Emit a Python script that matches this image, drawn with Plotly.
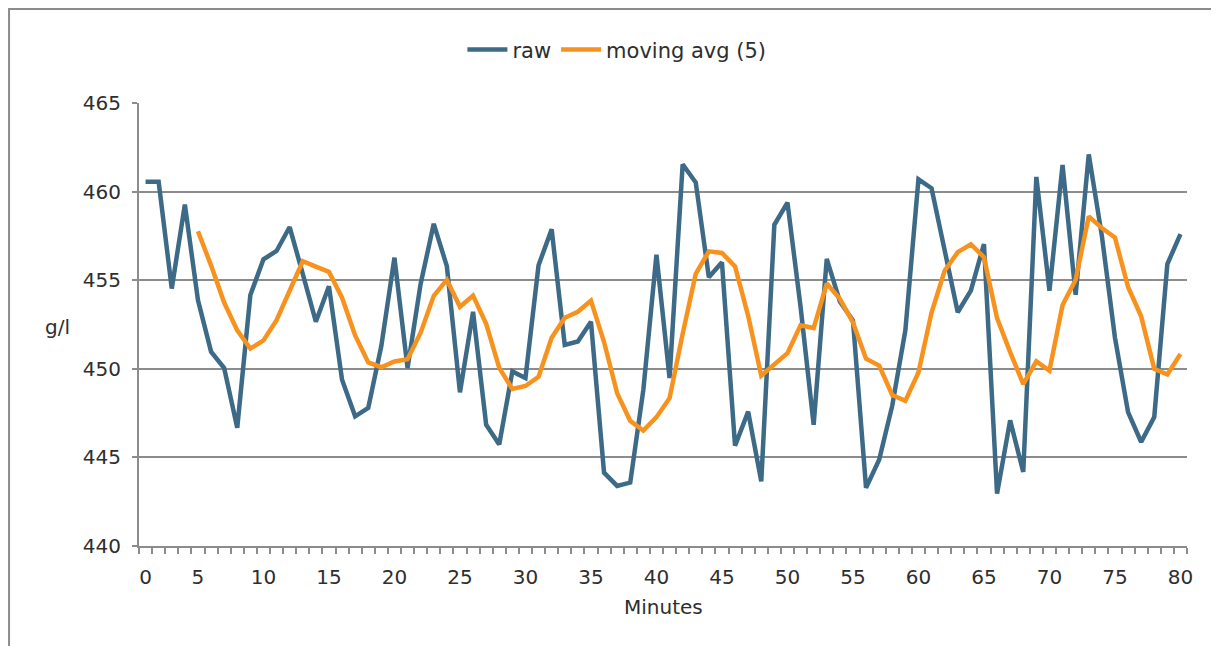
import plotly.graph_objects as go

# ---- data ----
minute_index = list(range(80))
tick_positions = [0] + list(range(4, 80, 5))
tick_labels = ["0"] + [str(m) for m in range(5, 85, 5)]

raw = [460.56, 460.56, 454.53, 459.27, 453.88, 450.97, 450.04, 446.67, 454.16, 456.18,
       456.65, 458.00, 455.36, 452.66, 454.66, 449.38, 447.32, 447.79, 451.30, 456.27,
       450.04, 454.80, 458.18, 455.79, 448.67, 453.22, 446.85, 445.73, 449.85, 449.48,
       455.84, 457.87, 451.35, 451.54, 452.66, 444.14, 443.39, 443.58, 448.82, 456.44,
       449.48, 461.54, 460.51, 455.17, 456.01, 445.66, 447.58, 443.65, 458.13, 459.38,
       453.51, 446.84, 456.20, 453.80, 452.73, 443.28, 444.87, 447.92, 452.17, 460.69,
       460.19, 456.68, 453.19, 454.41, 457.04, 442.96, 447.09, 444.18, 460.83, 454.41,
       461.50, 454.18, 462.10, 457.51, 451.76, 447.56, 445.87, 447.28, 455.91, 457.60]

moving_avg = [None, None, None, None,
              457.76, 455.84, 453.74, 452.17, 451.14, 451.60,
              452.74, 454.33, 456.07, 455.77, 455.47, 454.01, 451.88, 450.36, 450.09, 450.41,
              450.54, 452.04, 454.12, 455.02, 453.50, 454.13, 452.54, 450.05, 448.86, 449.03,
              449.55, 451.75, 452.88, 453.22, 453.85, 451.51, 448.62, 447.06, 446.52, 447.27,
              448.34, 451.97, 455.36, 456.63, 456.54, 455.78, 452.99, 449.61, 450.21, 450.88,
              452.45, 452.30, 454.81, 453.95, 452.62, 450.57, 450.18, 448.52, 448.19, 449.79,
              453.17, 455.53, 456.58, 457.03, 456.30, 452.86, 450.94, 449.14, 450.42, 449.89,
              453.60, 455.02, 458.60, 457.94, 457.41, 454.62, 452.96, 450.00, 449.68, 450.84]

BLUE = "#3D6A86"
ORANGE = "#F7921E"
GRID = "#8C8C8C"
TEXT = "#2E2E2E"
FONT = "DejaVu Sans"

fig = go.Figure()
fig.add_trace(go.Scatter(x=minute_index, y=raw, mode="lines", name="raw",
                         line=dict(color=BLUE, width=4.5)))
fig.add_trace(go.Scatter(x=minute_index, y=moving_avg, mode="lines", name="moving avg (5)",
                         line=dict(color=ORANGE, width=4.5)))

fig.update_layout(
    width=1211, height=638,
    margin=dict(l=131, r=32, t=95, b=100, autoexpand=False),
    paper_bgcolor="white", plot_bgcolor="white",
    font=dict(family=FONT, size=20, color=TEXT),
    showlegend=True,
    legend=dict(orientation="h", x=0.456, xanchor="center", y=1.12, yanchor="middle",
                font=dict(family=FONT, size=21, color=TEXT), bgcolor="rgba(0,0,0,0)",
                itemwidth=40),
    xaxis=dict(range=[-0.5, 79.5], tickmode="array", tickvals=tick_positions,
               ticktext=tick_labels, ticks="", showgrid=False, zeroline=False,
               showline=True, linecolor=GRID, linewidth=2,
               ticklabelstandoff=12,
               tickfont=dict(family=FONT, size=20, color=TEXT),
               minor=dict(tickmode="linear", tick0=-0.5, dtick=1, ticks="outside",
                          ticklen=6, tickcolor=GRID, tickwidth=1.5, showgrid=False)),
    yaxis=dict(range=[440, 465], tickmode="linear", tick0=440, dtick=5,
               showgrid=True, gridcolor=GRID, gridwidth=1.5, zeroline=False,
               showline=True, linecolor=GRID, linewidth=2,
               ticks="outside", ticklen=5, tickcolor=GRID, tickwidth=1.5,
               ticklabelstandoff=7,
               tickfont=dict(family=FONT, size=20, color=TEXT)),
    annotations=[
        dict(text="g/l", x=-0.0773, y=0.494, xref="paper", yref="paper",
             xanchor="center", yanchor="middle",
             showarrow=False, font=dict(family=FONT, size=20, color=TEXT)),
        dict(text="Minutes", x=0.5, y=-0.1377, xref="paper", yref="paper",
             xanchor="center", yanchor="middle",
             showarrow=False, font=dict(family=FONT, size=20, color=TEXT)),
    ],
    shapes=[dict(type="rect", xref="paper", yref="paper",
                 x0=-0.1240, x1=1.0248, y0=-0.40, y1=1.2122,
                 line=dict(color=GRID, width=2), fillcolor="rgba(0,0,0,0)", layer="below")],
)

fig.write_html("out.html")
